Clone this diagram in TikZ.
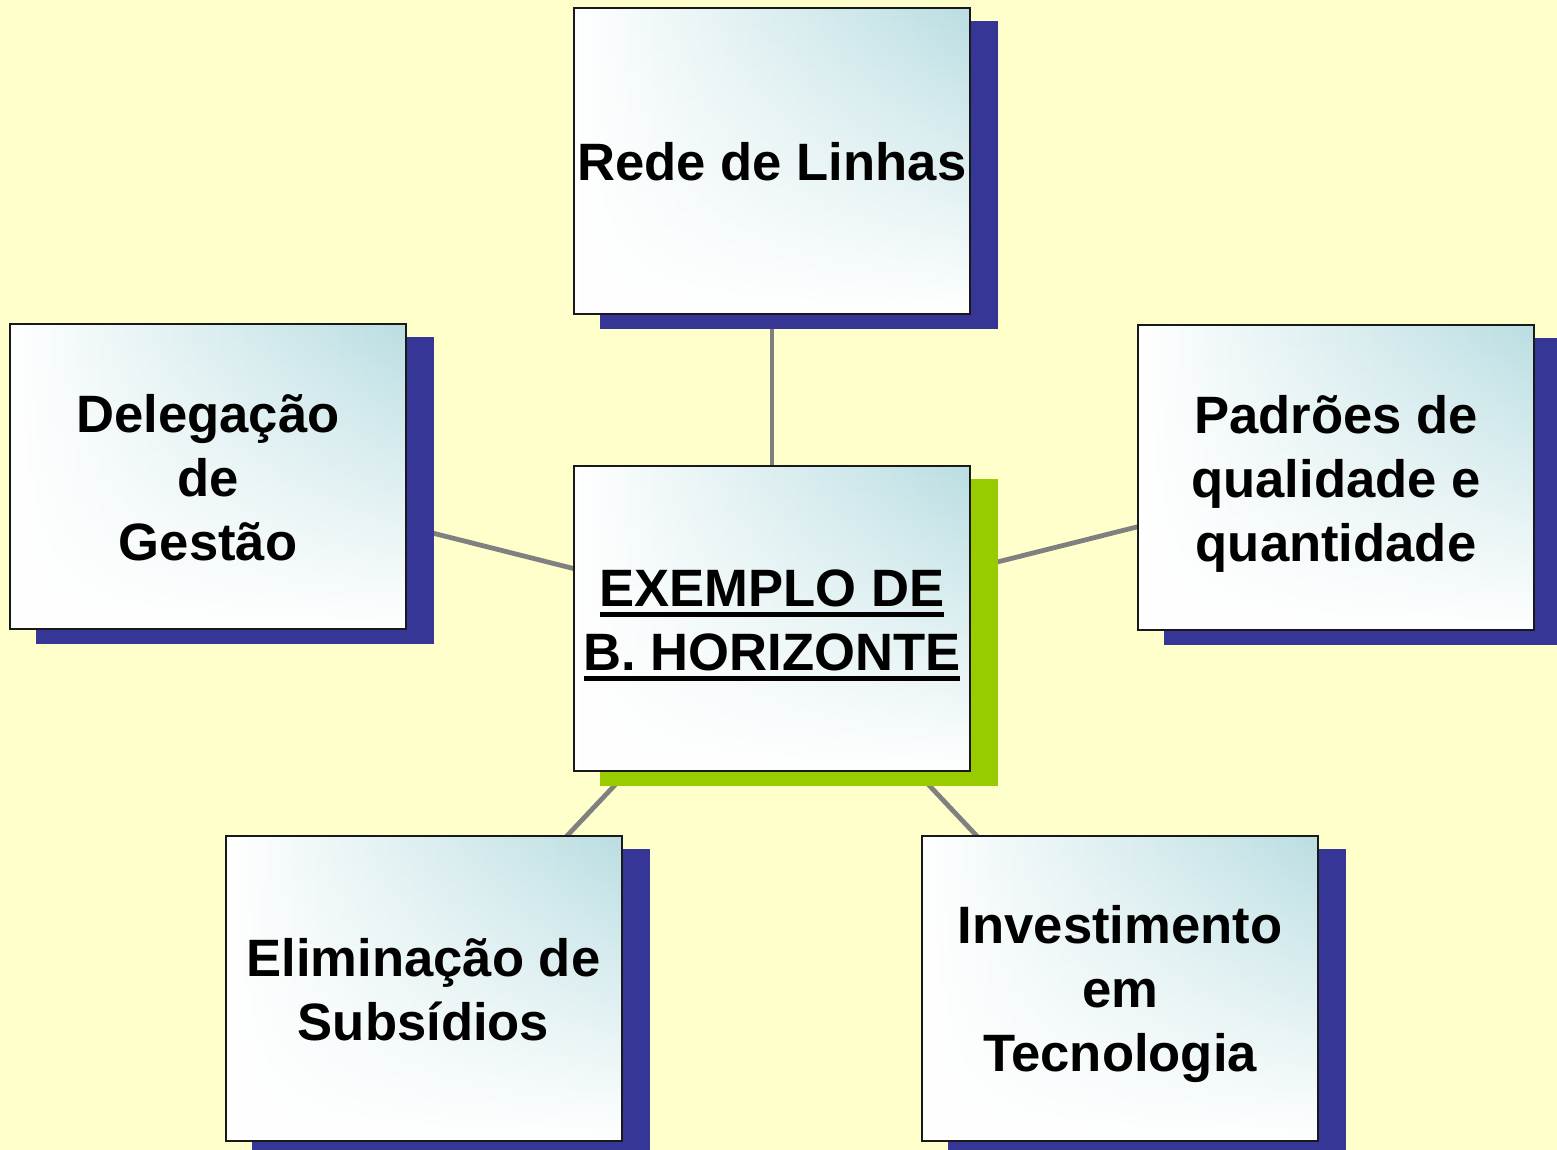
\documentclass[tikz,border=0pt]{standalone}
\usepackage{fontspec}
\setmainfont{Liberation Sans}
\usetikzlibrary{backgrounds,fadings}
\definecolor{bgyellow}{RGB}{255,255,204}
\definecolor{shblue}{RGB}{54,54,150}
\definecolor{shgreen}{RGB}{153,204,0}
\definecolor{linkgray}{RGB}{128,128,128}
\definecolor{boxteal}{RGB}{186,222,226}
\newcommand\myul[1]{\setbox0=\hbox{#1}\rlap{\rule[-5.3pt]{\wd0}{2.5pt}}\box0}
\newcommand\tstrut{\vrule height 25.5pt depth 0pt width 0pt}
\newcommand\bstrut{\vrule height 0pt depth 5.5pt width 0pt}
\tikzset{
  box/.style={draw=black!90, fill=white, line width=1pt, minimum width=198pt, minimum height=152.5pt,
    inner sep=0pt, align=center, font=\bfseries\fontsize{26.3}{32}\selectfont,
    path picture={\shade[left color=white, right color=boxteal, path fading=south]
      (path picture bounding box.south west) rectangle (path picture bounding box.north east);}},
  link/.style={draw=linkgray, line width=2.4pt},
  blueshadow/.style={fill=shblue},
  greenshadow/.style={fill=shgreen}
}
\begin{document}
\begin{tikzpicture}[x=0.5pt,y=-0.5pt]
\useasboundingbox (0,0) rectangle (1557,1150);
\node[box] (top) at (772,161) {\tstrut Rede de Linhas\bstrut};
\node[box] (ctr) at (772,618.5) {\tstrut\myul{EXEMPLO DE}\\\myul{B. HORIZONTE}\bstrut};
\node[box] (lft) at (208,476.5) {\tstrut Delegação\\de\\Gestão\bstrut};
\node[box] (rgt) at (1336,477) {\tstrut Padrões de\\qualidade e\\quantidade\bstrut};
\node[box] (bl) at (423.5,988) {\tstrut Eliminação de\\Subsídios\bstrut};
\node[box] (br) at (1120,988) {\tstrut Investimento\\em\\Tecnologia\bstrut};
\begin{scope}[on background layer]
  \fill[bgyellow] (0,0) rectangle (1557,1150);
  \foreach \n in {top,lft,rgt,bl,br} \draw[link] (ctr.center) -- (\n.center);
  \foreach \n in {top,lft,rgt,bl,br}
    \fill[blueshadow] ([shift={(27,14)}]\n.south west) rectangle ([shift={(27,14)}]\n.north east);
  \fill[greenshadow] ([shift={(27,14)}]ctr.south west) rectangle ([shift={(27,14)}]ctr.north east);
\end{scope}
\end{tikzpicture}
\end{document}
